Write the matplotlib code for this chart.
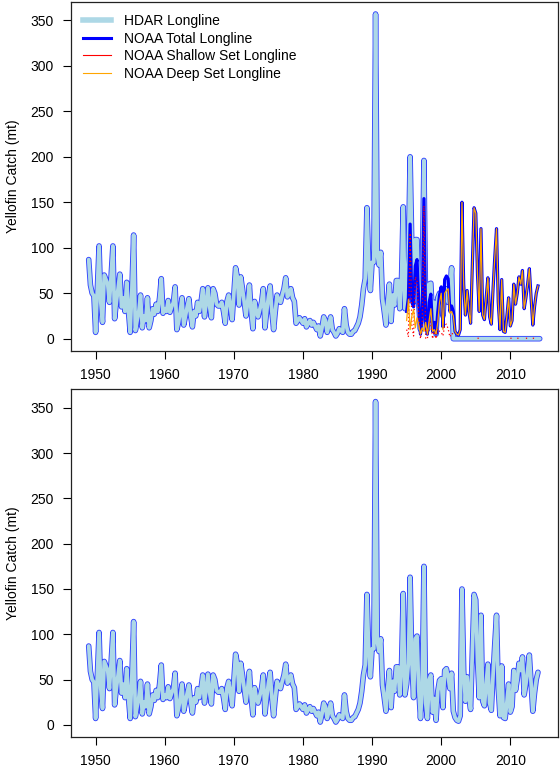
import numpy as np
import matplotlib
matplotlib.use("Agg")
import matplotlib.pyplot as plt
from matplotlib.lines import Line2D

plt.rcParams['font.family'] = ['Liberation Sans', 'DejaVu Sans']
plt.rcParams['font.size'] = 10

# quarterly yellowfin catch (mt), first quarter of 1949 onwards
hdar_1949_1994 = [
    87, 59, 50, 47,   7, 55, 102, 40,   18, 70, 65, 60,   40, 70, 102, 22,
    40, 55, 71, 35,   45, 30, 62, 30,   7, 55, 114, 9,    20, 30, 48, 12,
    25, 20, 45, 12,   20, 33, 27, 38,   30, 45, 66, 28,   33, 30, 42, 29,
    35, 40, 57, 10,   18, 30, 45, 15,   25, 35, 44, 25,   13, 30, 25, 40,
    30, 40, 55, 24,   40, 56, 35, 23,   55, 50, 38, 36,   36, 40, 30, 17,
    41, 48, 35, 21,   50, 78, 68, 37,   68, 55, 40, 25,   40, 59, 30, 11,
    41, 30, 24, 32,   40, 55, 12, 30,   46, 58, 30, 10,   30, 48, 43, 40,
    48, 55, 67, 46,   50, 55, 45, 41,   17, 20, 23, 20,   17, 22, 13, 17,
    20, 15, 18, 14,   10, 14, 3, 12,    24, 20, 7, 15,    24, 10, 7, 3,
    6, 11, 9, 7,      33, 15, 7, 5,     5, 8, 9, 13,      17, 24, 37, 55,
    66, 144, 84, 53,  84, 84, 357, 92,  81, 95, 44, 30,   15, 40, 60, 19,
    48, 37, 64, 64,   33, 64, 145, 33,
]
hdar_1995_2001 = [
    60, 90, 200, 100,  40, 109, 109, 38,  10, 60, 196, 30,  10, 60, 61, 20,
    40, 5, 45, 50,     45, 25, 55, 55,    40, 50, 78, 0,
]
hdar_2002_2014 = [
    0, 0, 0, 0,  0, 0, 0, 0,  0, 0, 0, 0,  0, 0, 0, 0,  0, 0, 0, 0,
    0, 0, 0, 0,  0, 0, 0, 0,  0, 0, 0, 0,  0, 0, 0, 0,  0, 0, 0, 0,
    0, 0, 0, 0,  0, 0, 0, 0,  0, 0,
]

noaa_total_1995_2001 = [
    30, 45, 126, 40,  35, 80, 87, 40,  5, 25, 154, 18,  5, 40, 49, 8,
    18, 5, 29, 48,    57, 13, 65, 69,  66, 30, 36, 30,
]
noaa_deep_1995_2001 = [
    20, 43, 10, 25,  32, 12, 23, 15,  5, 12, 8, 18,  5, 20, 33, 8,
    10, 5, 18, 40,   50, 10, 50, 53,  55, 28, 30, 25,
]
noaa_shallow_1995_2001 = [
    10, 2, 116, 15,  3, 68, 64, 25,  0, 13, 146, 0,  0, 20, 16, 0,
    8, 0, 11, 8,     7, 3, 15, 16,   11, 2, 6, 5,
]
# after 2001 the longline catch is almost all deep set
noaa_2002_2014 = [
    8, 5, 4, 10,      150, 60, 26, 53,  30, 17, 80, 144,  138, 70, 30, 121,
    26, 21, 45, 67,   24, 16, 55, 90,   121, 40, 10, 65,  8, 7, 25, 45,
    14, 20, 60, 38,   50, 68, 60, 75,   33, 45, 60, 77,   45, 15, 35, 50,
    58,
]
nan = np.nan
shallow_2002_2014 = [
    nan, nan, nan, nan,  nan, nan, nan, nan,  nan, nan, nan, nan,  nan, 0.5, 0.5, nan,
    nan, nan, nan, nan,  nan, nan, nan, nan,  nan, nan, nan, nan,  nan, nan, nan, nan,
    0.5, 0.5, nan, nan,  0.5, 0.5, nan, nan,  nan, 0.5, 0.5, nan,  nan, 0.5, 0.5, nan,
    nan,
]
# merged series (bottom panel) during the 1995-2001 overlap
combined_1995_2001 = [
    45, 68, 163, 70,  30, 95, 98, 39,  7, 42, 175, 24,  7, 50, 55, 14,
    29, 5, 37, 49,    51, 19, 60, 62,  53, 40, 57, 15,
]

hdar = np.array(hdar_1949_1994 + hdar_1995_2001 + hdar_2002_2014, dtype=float)
noaa_total = np.array(noaa_total_1995_2001 + noaa_2002_2014, dtype=float)
noaa_deep = np.array(noaa_deep_1995_2001 + noaa_2002_2014, dtype=float)
noaa_shallow = np.array(noaa_shallow_1995_2001 + shallow_2002_2014, dtype=float)
combined = np.array(hdar_1949_1994 + combined_1995_2001 + noaa_2002_2014, dtype=float)

t_hdar = 1949 + 0.25 * np.arange(len(hdar))
t_noaa = 1995 + 0.25 * np.arange(len(noaa_total))
t_comb = 1949 + 0.25 * np.arange(len(combined))

year_ticks = [1950, 1960, 1970, 1980, 1990, 2000, 2010]
catch_ticks = [0, 50, 100, 150, 200, 250, 300, 350]


def outlined(ax, x, y):
    kw = dict(solid_capstyle='round', solid_joinstyle='round')
    ax.plot(x, y, color='#3345ff', lw=4.0, **kw)
    ax.plot(x, y, color='lightblue', lw=2.7, **kw)


def style(ax):
    ax.set_xlim(1946.4, 2016.9)
    ax.set_ylim(-13.5, 370.5)
    ax.set_xticks(year_ticks)
    ax.set_yticks(catch_ticks)
    ax.tick_params(direction='out', length=6, width=0.8, pad=6, colors='black')
    for s in ax.spines.values():
        s.set_linewidth(0.9)
        s.set_color('#222222')
    ax.set_ylabel('Yellofin Catch (mt)')
    ax.yaxis.set_label_coords(-0.104, 0.5)


fig = plt.figure(figsize=(5.6, 7.75), dpi=100)
ax1 = fig.add_axes([0.1263, 0.5471, 0.8702, 0.4507])
ax2 = fig.add_axes([0.1263, 0.0490, 0.8702, 0.4486])

outlined(ax1, t_hdar, hdar)
ax1.plot(t_noaa, noaa_total, color='blue', lw=2.3)
ax1.plot(t_noaa, noaa_shallow, color='red', lw=0.9, ls=(0, (1, 2)))
ax1.plot(t_noaa, noaa_deep, color='orange', lw=0.9)
style(ax1)

handles = [
    Line2D([], [], color='lightblue', lw=4),
    Line2D([], [], color='blue', lw=2.2),
    Line2D([], [], color='red', lw=0.8),
    Line2D([], [], color='orange', lw=0.8),
]
labels = ['HDAR Longline', 'NOAA Total Longline',
          'NOAA Shallow Set Longline', 'NOAA Deep Set Longline']
ax1.legend(handles, labels, loc='upper left', frameon=False,
           handlelength=2.0, handletextpad=0.9, labelspacing=0.25,
           borderaxespad=0.5, fontsize=10)

outlined(ax2, t_comb, combined)
style(ax2)

fig.savefig('out.png', dpi=100)
